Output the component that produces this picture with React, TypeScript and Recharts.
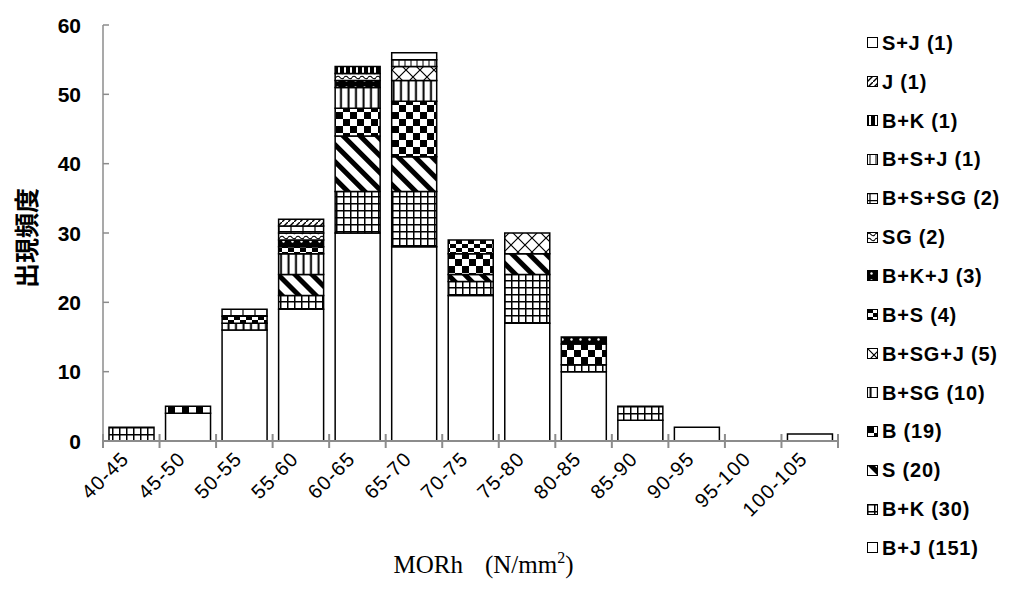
import { BarChart, Bar, XAxis, YAxis, Label } from 'recharts';

// MORh class intervals (N/mm2)
const CATEGORIES = [
  '40-45', '45-50', '50-55', '55-60', '60-65', '65-70', '70-75',
  '75-80', '80-85', '85-90', '90-95', '95-100', '100-105',
];

// counts per class for each defect combination (bottom of the stack first)
const BJ = [0, 4, 16, 19, 30, 28, 21, 17, 10, 3, 2, 0, 1];
const BK = [2, 0, 0, 2, 6, 8, 2, 7, 1, 2, 0, 0, 0];
const S = [0, 0, 0, 3, 8, 5, 1, 3, 0, 0, 0, 0, 0];
const B = [0, 1, 0, 0, 4, 8, 3, 0, 3, 0, 0, 0, 0];
const BSG = [0, 0, 1, 3, 3, 3, 0, 0, 0, 0, 0, 0, 0];
const BSGJ = [0, 0, 0, 0, 0, 2, 0, 3, 0, 0, 0, 0, 0];
const BS = [0, 0, 1, 1, 0, 0, 2, 0, 0, 0, 0, 0, 0];
const BKJ = [0, 0, 0, 1, 1, 0, 0, 0, 1, 0, 0, 0, 0];
const SG = [0, 0, 0, 1, 1, 0, 0, 0, 0, 0, 0, 0, 0];
const BSSG = [0, 0, 1, 1, 0, 0, 0, 0, 0, 0, 0, 0, 0];
const BSJ = [0, 0, 0, 0, 0, 1, 0, 0, 0, 0, 0, 0, 0];
const BK2 = [0, 0, 0, 0, 1, 0, 0, 0, 0, 0, 0, 0, 0];
const J = [0, 0, 0, 1, 0, 0, 0, 0, 0, 0, 0, 0, 0];
const SJ = [0, 0, 0, 0, 0, 1, 0, 0, 0, 0, 0, 0, 0];

const Y_TICKS = [0, 10, 20, 30, 40, 50, 60];

const SERIES = [
  { key: 'bj', name: 'B+J', values: BJ, fill: '#fff' },
  { key: 'bk', name: 'B+K', values: BK, fill: 'url(#pBK)' },
  { key: 's', name: 'S', values: S, fill: 'url(#pS)' },
  { key: 'b', name: 'B', values: B, fill: 'url(#pB)' },
  { key: 'bsg', name: 'B+SG', values: BSG, fill: 'url(#pBSG)' },
  { key: 'bsgj', name: 'B+SG+J', values: BSGJ, fill: 'url(#pBSGJ)' },
  { key: 'bs', name: 'B+S', values: BS, fill: 'url(#pBS)' },
  { key: 'bkj', name: 'B+K+J', values: BKJ, fill: 'url(#pBKJ)' },
  { key: 'sg', name: 'SG', values: SG, fill: 'url(#pSG)' },
  { key: 'bssg', name: 'B+S+SG', values: BSSG, fill: 'url(#pBSSG)' },
  { key: 'bsj', name: 'B+S+J', values: BSJ, fill: 'url(#pBSJ)' },
  { key: 'bk2', name: 'B+K', values: BK2, fill: 'url(#pBK2)' },
  { key: 'j', name: 'J', values: J, fill: 'url(#pJ)' },
  { key: 'sj', name: 'S+J', values: SJ, fill: '#fff' },
];

const data = CATEGORIES.map((cat, i) => {
  const row: Record<string, string | number> = { cat };
  SERIES.forEach((s) => {
    row[s.key] = s.values[i];
  });
  return row;
});

const W = 1009;
const H = 591;
const MARGIN = { top: 25, right: 171, bottom: 10, left: 43 };
const Y_AXIS_W = 60;
const X_AXIS_H = 140;
const PLOT_W = W - MARGIN.left - Y_AXIS_W - MARGIN.right;
const HALF_STEP = PLOT_W / CATEGORIES.length / 2;
const AXIS = '#8c8c8c';

function Patterns() {
  return (
    <defs>
      <pattern id="pBK" width="7" height="7" patternUnits="userSpaceOnUse">
        <rect width="7" height="7" fill="#fff" />
        <path d="M0 0.75H7M0.75 0V7" stroke="#000" strokeWidth="1.5" />
      </pattern>
      <pattern id="pS" width="12" height="12" patternUnits="userSpaceOnUse" patternTransform="rotate(-45)">
        <rect width="12" height="12" fill="#fff" />
        <rect width="5" height="12" fill="#000" />
      </pattern>
      <pattern id="pB" width="14" height="14" patternUnits="userSpaceOnUse">
        <rect width="14" height="14" fill="#fff" />
        <rect width="7" height="7" fill="#000" />
        <rect x="7" y="7" width="7" height="7" fill="#000" />
      </pattern>
      <pattern id="pBSG" width="7.5" height="7" patternUnits="userSpaceOnUse">
        <rect width="7.5" height="7" fill="#fff" />
        <rect x="2.5" width="2" height="7" fill="#000" />
      </pattern>
      <pattern id="pBSGJ" width="14" height="14" patternUnits="userSpaceOnUse">
        <rect width="14" height="14" fill="#fff" />
        <path d="M0 0L14 14M14 0L0 14" stroke="#000" strokeWidth="1.2" />
      </pattern>
      <pattern id="pBS" width="12" height="8" patternUnits="userSpaceOnUse">
        <rect width="12" height="8" fill="#fff" />
        <rect width="6" height="4" fill="#000" />
        <rect x="6" y="4" width="6" height="4" fill="#000" />
      </pattern>
      <pattern id="pBKJ" width="9" height="7" patternUnits="userSpaceOnUse">
        <rect width="9" height="7" fill="#000" />
        <circle cx="4.5" cy="3.5" r="1.2" fill="#fff" />
      </pattern>
      <pattern id="pSG" width="8" height="5" patternUnits="userSpaceOnUse">
        <rect width="8" height="5" fill="#fff" />
        <path d="M0 2.5Q2 0 4 2.5T8 2.5" stroke="#000" strokeWidth="1.2" fill="none" />
      </pattern>
      <pattern id="pBSSG" width="12" height="7" patternUnits="userSpaceOnUse">
        <rect width="12" height="7" fill="#fff" />
        <path d="M0 0.6H12M3 0V7" stroke="#000" strokeWidth="1.2" />
      </pattern>
      <pattern id="pBSJ" width="6" height="6" patternUnits="userSpaceOnUse">
        <rect width="6" height="6" fill="#fff" />
        <path d="M3 0V6" stroke="#000" strokeWidth="1" />
      </pattern>
      <pattern id="pBK2" width="6" height="6" patternUnits="userSpaceOnUse">
        <rect width="6" height="6" fill="#000" />
        <rect x="2" width="2" height="6" fill="#fff" />
      </pattern>
      <pattern id="pJ" width="6" height="6" patternUnits="userSpaceOnUse">
        <rect width="6" height="6" fill="#fff" />
        <path d="M0 6L6 0" stroke="#000" strokeWidth="1.4" />
      </pattern>
    </defs>
  );
}

function YTick({ x, y, payload }: any) {
  return (
    <g>
      <line x1={x} x2={x + 6} y1={y} y2={y} stroke={AXIS} strokeWidth={1.5} />
      <text
        x={x - 22}
        y={y}
        textAnchor="end"
        dominantBaseline="central"
        fontFamily="'Liberation Sans', Arial, sans-serif"
        fontWeight="bold"
        fontSize={21}
        fill="#000"
      >
        {payload.value}
      </text>
    </g>
  );
}

function XTick({ x, y, payload, index }: any) {
  const last = index === CATEGORIES.length - 1;
  const tx = x - 6;
  const ty = y + 14;
  return (
    <g>
      <line x1={x - HALF_STEP} x2={x - HALF_STEP} y1={y - 7} y2={y + 7} stroke={AXIS} strokeWidth={2} />
      {last && (
        <line x1={x + HALF_STEP} x2={x + HALF_STEP} y1={y - 7} y2={y + 7} stroke={AXIS} strokeWidth={2} />
      )}
      <text
        x={tx}
        y={ty}
        textAnchor="end"
        dominantBaseline="central"
        transform={`rotate(-45 ${tx} ${ty})`}
        fontFamily="'Liberation Sans', Arial, sans-serif"
        fontSize={20}
        letterSpacing={1.2}
        fill="#000"
      >
        {payload.value}
      </text>
    </g>
  );
}

function XTitle({ viewBox }: any) {
  const cx = viewBox.x + viewBox.width / 2 + 13;
  return (
    <text
      x={cx}
      y={viewBox.y + 132}
      textAnchor="middle"
      fontFamily="'Liberation Serif', 'Times New Roman', serif"
      fontSize={25}
      fill="#000"
    >
      MORh
      <tspan dx={22}>(N/mm</tspan>
      <tspan dy={-10} fontSize={16}>2</tspan>
      <tspan dy={10}>)</tspan>
    </text>
  );
}

function YTitle({ viewBox }: any) {
  const cy = viewBox.y + viewBox.height / 2 + 5;
  return (
    <text
      x={25}
      y={cy}
      textAnchor="middle"
      dominantBaseline="central"
      transform={`rotate(-90 25 ${cy})`}
      fontFamily="'Noto Sans CJK JP', sans-serif"
      fontWeight="bold"
      fontSize={25}
      fill="#000"
    >
      出現頻度
    </text>
  );
}

function Legend() {
  const items = [...SERIES].reverse();
  return (
    <div style={{ position: 'absolute', left: 867, top: 24, fontFamily: "'Liberation Sans', Arial, sans-serif" }}>
      {items.map((s) => {
        const total = s.values.reduce((a, v) => a + v, 0);
        return (
          <div key={s.key} style={{ height: 38.85, display: 'flex', alignItems: 'center' }}>
            <svg width={12} height={12} style={{ marginRight: 3 }}>
              <rect x={0.5} y={0.5} width={10} height={10} fill={s.fill} stroke="#000" strokeWidth={1} />
            </svg>
            <span style={{ fontSize: 20, fontWeight: 'bold', color: '#000', whiteSpace: 'pre', letterSpacing: 0.8 }}>
              {`${s.name} (${total})`}
            </span>
          </div>
        );
      })}
    </div>
  );
}

export default function App() {
  return (
    <div style={{ position: 'absolute', left: 0, top: 0, width: W, height: H, background: '#fff' }}>
      <BarChart width={W} height={H} data={data} margin={MARGIN} barSize={45}>
        <Patterns />
        <XAxis
          dataKey="cat"
          height={X_AXIS_H}
          interval={0}
          stroke={AXIS}
          strokeWidth={2}
          tickLine={false}
          tickSize={0}
          tickMargin={0}
          tick={<XTick />}
        >
          <Label content={<XTitle />} />
        </XAxis>
        <YAxis
          width={Y_AXIS_W}
          domain={[0, 60]}
          ticks={Y_TICKS}
          interval={0}
          stroke={AXIS}
          strokeWidth={1.5}
          tickLine={false}
          tickSize={0}
          tickMargin={0}
          tick={<YTick />}
        >
          <Label content={<YTitle />} />
        </YAxis>
        {SERIES.map((s) => (
          <Bar
            key={s.key}
            dataKey={s.key}
            name={s.name}
            stackId="a"
            fill={s.fill}
            stroke="#000"
            strokeWidth={1.5}
            isAnimationActive={false}
          />
        ))}
      </BarChart>
      <Legend />
    </div>
  );
}
